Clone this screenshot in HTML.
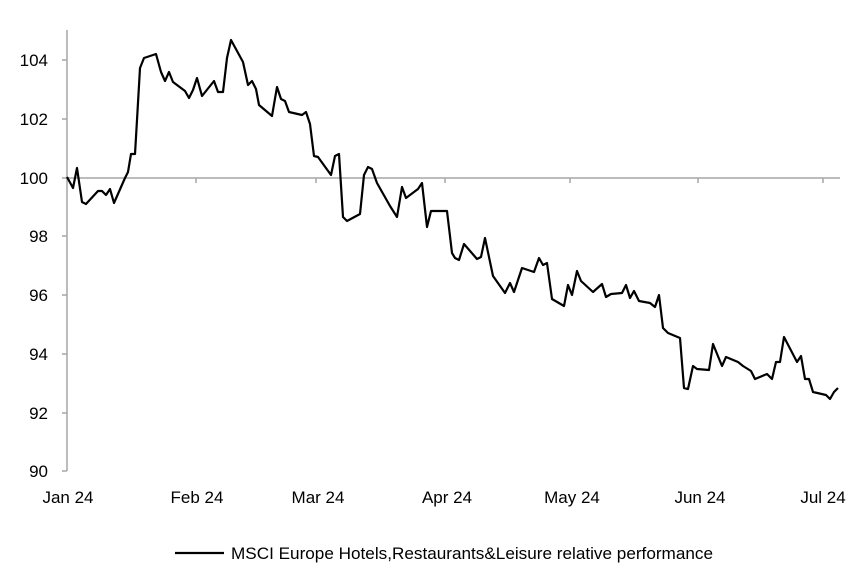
<!DOCTYPE html>
<html><head><style>body{margin:0;background:#fff}svg{display:block}</style></head><body>
<svg width="852" height="585" viewBox="0 0 852 585" xmlns="http://www.w3.org/2000/svg" font-family="Liberation Sans, Arial, sans-serif">
<g stroke="#a6a6a6" stroke-width="1.5" fill="none">
<line x1="67" y1="30" x2="67" y2="471"/>
<line x1="67" y1="178" x2="840" y2="178"/>
<line x1="62" y1="60" x2="67" y2="60"/>
<line x1="62" y1="119" x2="67" y2="119"/>
<line x1="62" y1="178" x2="67" y2="178"/>
<line x1="62" y1="236" x2="67" y2="236"/>
<line x1="62" y1="295" x2="67" y2="295"/>
<line x1="62" y1="354" x2="67" y2="354"/>
<line x1="62" y1="413" x2="67" y2="413"/>
<line x1="62" y1="471" x2="67" y2="471"/>
<line x1="196" y1="178" x2="196" y2="183"/>
<line x1="316" y1="178" x2="316" y2="183"/>
<line x1="445" y1="178" x2="445" y2="183"/>
<line x1="570" y1="178" x2="570" y2="183"/>
<line x1="698" y1="178" x2="698" y2="183"/>
<line x1="823" y1="178" x2="823" y2="183"/>
</g>
<g font-size="17" fill="#000" text-anchor="end">
<text x="48" y="66">104</text><text x="48" y="125">102</text><text x="48" y="184">100</text>
<text x="48" y="242">98</text><text x="48" y="301">96</text><text x="48" y="360">94</text>
<text x="48" y="419">92</text><text x="48" y="477">90</text>
</g>
<g font-size="17" fill="#000" text-anchor="middle">
<text x="68" y="503">Jan 24</text><text x="197" y="503">Feb 24</text><text x="318" y="503">Mar 24</text>
<text x="447" y="503">Apr 24</text><text x="572" y="503">May 24</text><text x="700" y="503">Jun 24</text><text x="823" y="503">Jul 24</text>
</g>
<polyline fill="none" stroke="#000" stroke-width="2.2" stroke-linejoin="round" points="67,177 73,188 77,168 82,202 86,204 98,191 102,191 106,195 110,189 114,203 125,178 128,172 131,154 135,154 137,120 140,68 144,58 156,54 161,72 165,81 169,72 173,82 185,91 189,98 193,90 197,78 202,96 214,81 218,92 223,92 227,58 231,40 243,62 248,85 252,81 256,89 259,105 272,116 277,87 281,99 285,101 289,112 302,115 306,112 310,124 314,156 318,157 331,175 335,156 339,154 343,217 347,221 360,214 364,175 368,167 372,169 377,183 390,206 397,217 402,187 406,198 418,189 422,183 427,227 431,211 447,211 452,253 455,258 459,260 464,244 477,259 481,257 485,238 493,276 505,293 510,283 514,292 522,268 534,272 539,258 543,265 547,263 552,299 564,306 568,285 572,295 577,271 581,281 593,292 602,284 606,297 611,294 622,293 626,285 630,298 634,291 639,301 650,303 655,307 659,295 663,328 668,333 680,338 684,388 688,389 693,366 697,369 709,370 713,344 722,366 726,357 738,362 743,366 751,371 755,379 767,374 772,379 776,362 780,362 784,337 797,362 801,356 805,379 809,379 813,392 826,395 830,399 834,392 838,388"/>
<line x1="175" y1="553" x2="224" y2="553" stroke="#000" stroke-width="2.2"/>
<text x="231" y="559" font-size="17" fill="#000" textLength="482" lengthAdjust="spacingAndGlyphs">MSCI Europe Hotels,Restaurants&amp;Leisure relative performance</text>
</svg>
</body></html>
